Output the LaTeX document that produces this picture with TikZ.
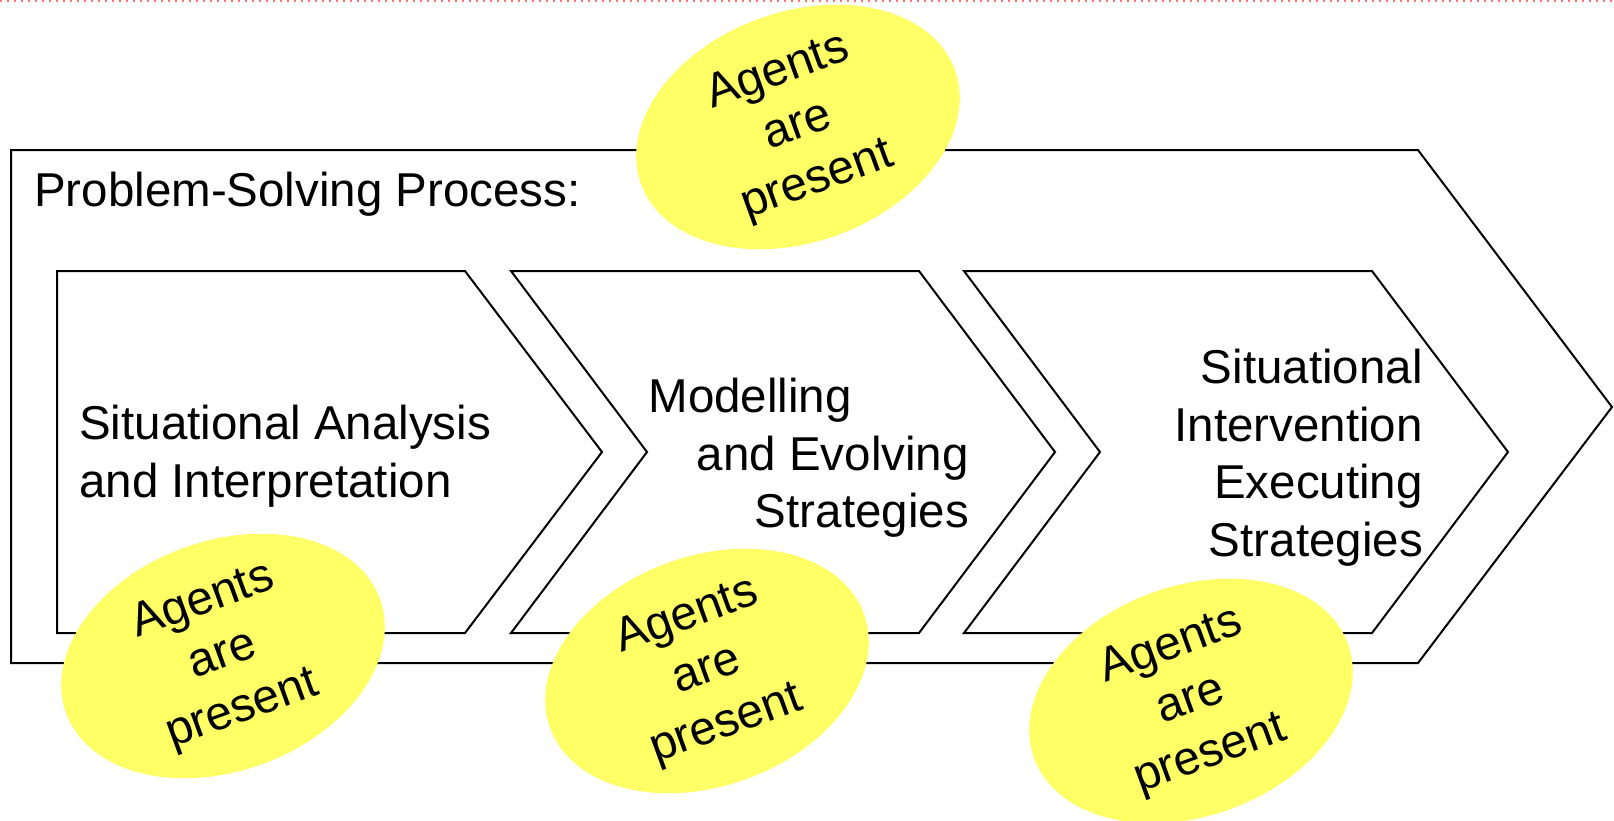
\documentclass[tikz,border=0pt]{standalone}
\usepackage{fontspec}
\setmainfont{Liberation Sans}
\usetikzlibrary{shapes.geometric}
\definecolor{agentyellow}{HTML}{FFFF66}
\tikzset{
  stage/.style={draw=black,line width=2pt,line join=miter},
  agent/.style={ellipse,fill=agentyellow,minimum width=334pt,minimum height=230pt,
    inner sep=0pt,rotate=20,align=center},
  stagetext/.style={inner sep=0pt},
  edgeline/.style={red!55,line width=2pt,dash pattern=on 2pt off 5pt}
}

\begin{document}
\begin{tikzpicture}[x=1pt,y=-1pt,font=\fontsize{47.5}{57.5}\selectfont]
\useasboundingbox (0,0) rectangle (1614,820);
% dotted edge at the top
\coordinate (edgeL) at (0,1);
\coordinate (edgeR) at (1614,1);
\draw[edgeline] (edgeL) -- (edgeR);
% outer process arrow
\coordinate (PA) at (11,150);
\coordinate (PB) at (1418,150);
\coordinate (PC) at (1612,407);
\coordinate (PD) at (1418,663);
\coordinate (PE) at (11,663);
\draw[stage] (PA) -- (PB) -- (PC) -- (PD) -- (PE) -- cycle;
\node[stagetext,anchor=north west] (process) at (34,172) {Problem-Solving Process:};
% first stage
\coordinate (A1) at (57,271);
\coordinate (A2) at (465,271);
\coordinate (A3) at (602,452);
\coordinate (A4) at (465,633);
\coordinate (A5) at (57,633);
\draw[stage] (A1) -- (A2) -- (A3) -- (A4) -- (A5) -- cycle;
\node[stagetext,anchor=north west,align=left] (analysis) at (79,405)
  {Situational Analysis\\and Interpretation};
% second stage
\coordinate (B1) at (511,271);
\coordinate (B2) at (919,271);
\coordinate (B3) at (1055,452);
\coordinate (B4) at (919,633);
\coordinate (B5) at (511,633);
\coordinate (B6) at (647,452);
\draw[stage] (B1) -- (B2) -- (B3) -- (B4) -- (B5) -- (B6) -- cycle;
\node[stagetext,anchor=north east,align=right] (modelling) at (969,378)
  {Modelling\hspace*{117pt}\\and Evolving\\Strategies};
% third stage
\coordinate (C1) at (964,271);
\coordinate (C2) at (1372,271);
\coordinate (C3) at (1508,452);
\coordinate (C4) at (1372,633);
\coordinate (C5) at (964,633);
\coordinate (C6) at (1100,452);
\draw[stage] (C1) -- (C2) -- (C3) -- (C4) -- (C5) -- (C6) -- cycle;
\node[stagetext,anchor=north east,align=right] (intervention) at (1423,349)
  {Situational\\Intervention\\Executing\\Strategies};
% agents
\node[agent] (agentTop) at (798,127) {Agents\\are\\present};
\node[agent] (agentOne) at (223,656) {Agents\\are\\present};
\node[agent] (agentTwo) at (707,671) {Agents\\are\\present};
\node[agent] (agentThree) at (1191,701) {Agents\\are\\present};
\end{tikzpicture}
\end{document}
